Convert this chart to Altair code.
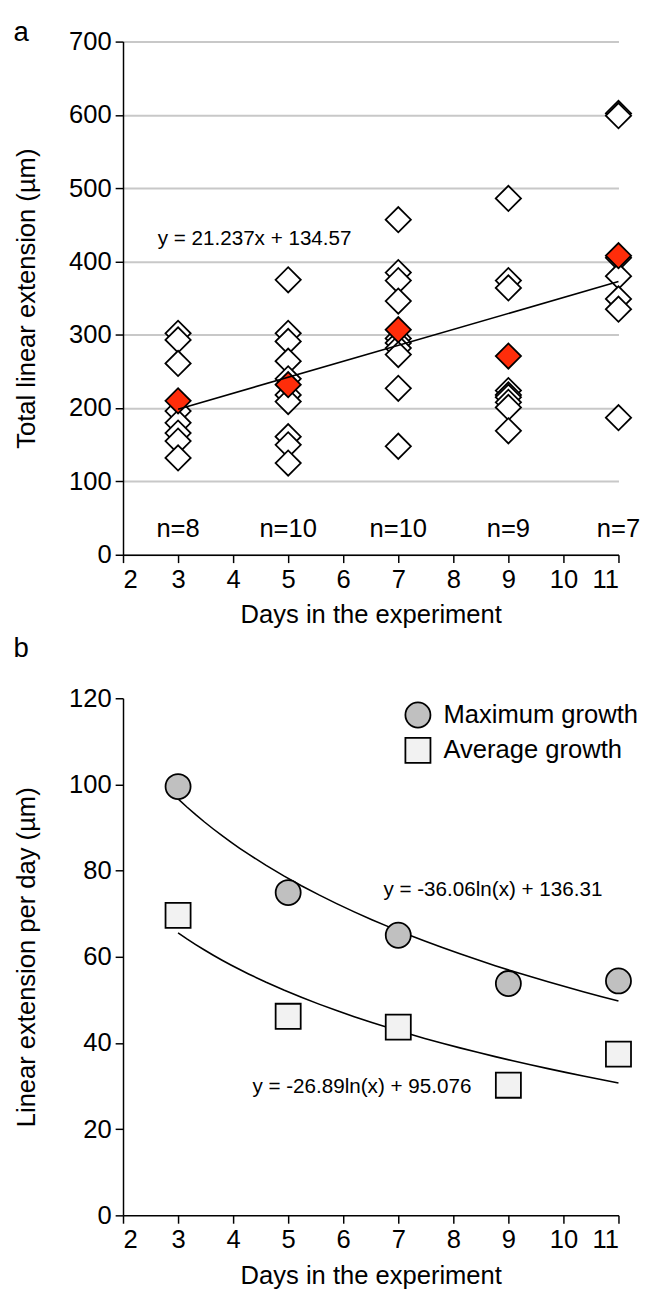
import altair as alt
import pandas as pd

FONT = "Liberation Sans"

# ---------------- Panel a data ----------------
day3 = [302, 293, 261, 196, 180, 166, 155, 132]
day5 = [375, 302, 291, 264, 240, 218, 209, 161, 150, 125]
day7 = [457, 385, 374, 346, 295, 289, 282, 273, 227, 148]
day9 = [486, 374, 364, 224, 218, 215, 208, 201, 169]
day11 = [602, 599, 405, 380, 349, 335, 187]
mean_days = [3, 5, 7, 9, 11]
mean_vals = [210, 232, 307, 271, 408]
n_labels = ["n=8", "n=10", "n=10", "n=9", "n=7"]
eq_a = "y = 21.237x + 134.57"

# ---------------- Panel b data ----------------
days_b = [3, 5, 7, 9, 11]
max_growth = [99.5, 74.9, 65.0, 53.8, 54.4]
avg_growth = [69.6, 46.2, 43.7, 30.2, 37.4]
series_names = ["Maximum growth", "Average growth"]
eq_max = "y = -36.06ln(x) + 136.31"
eq_avg = "y = -26.89ln(x) + 95.076"

x_ticks = list(range(2, 12))

rows = []
for d, vals in zip(mean_days, [day3, day5, day7, day9, day11]):
    for v in vals:
        rows.append({"day": d, "ext": v})
df_a = pd.DataFrame(rows)
df_mean = pd.DataFrame({"day": mean_days, "ext": mean_vals})
df_n = pd.DataFrame({"day": mean_days, "ext": [35] * 5, "label": n_labels})
df_eqa = pd.DataFrame({"day": [2.63], "ext": [430], "label": [eq_a]})

xa = alt.X("day:Q", scale=alt.Scale(domain=[2, 11], nice=False),
           axis=alt.Axis(values=x_ticks, format="d", title="Days in the experiment", grid=False,
                         titlePadding=10))
ya = alt.Y("ext:Q", scale=alt.Scale(domain=[0, 700], nice=False),
           axis=alt.Axis(values=list(range(0, 701, 100)), title="Total linear extension (µm)",
                         grid=True, gridColor="#c8c8c8", gridWidth=2, titlePadding=30, titleLimit=0))

pts_a = alt.Chart(df_a).mark_point(shape="diamond", filled=True, fill="white", stroke="black",
                                   strokeWidth=1.8, size=660, opacity=1).encode(x=xa, y=ya)
mean_a = alt.Chart(df_mean).mark_point(shape="diamond", filled=True, fill="#ff2d0a", stroke="black",
                                       strokeWidth=1.8, size=660, opacity=1).encode(x="day:Q", y="ext:Q")
line_a = alt.Chart(df_mean).transform_regression("day", "ext", extent=[3, 11]).mark_line(
    color="black", strokeWidth=1.6).encode(x="day:Q", y="ext:Q")
ntext = alt.Chart(df_n).mark_text(font=FONT, fontSize=26, color="black").encode(
    x="day:Q", y="ext:Q", text="label:N")
eqtext_a = alt.Chart(df_eqa).mark_text(font=FONT, fontSize=21, color="black", align="left").encode(
    x="day:Q", y="ext:Q", text="label:N")

panel_a = alt.layer(pts_a, mean_a, line_a, ntext, eqtext_a).properties(
    width=504, height=522,
    title=alt.TitleParams("a", anchor="start", frame="bounds", fontSize=28, fontWeight="normal",
                          font=FONT, color="black", offset=-18, dx=0))

# ---------------- Panel b ----------------
df_b = pd.DataFrame({
    "day": days_b * 2,
    "val": max_growth + avg_growth,
    "series": [series_names[0]] * 5 + [series_names[1]] * 5,
})
df_eqb = pd.DataFrame({"day": [6.73, 4.35], "val": [75.5, 29.7], "label": [eq_max, eq_avg]})

xb = alt.X("day:Q", scale=alt.Scale(domain=[2, 11], nice=False),
           axis=alt.Axis(values=x_ticks, format="d", title="Days in the experiment", grid=False,
                         titlePadding=10))
yb = alt.Y("val:Q", scale=alt.Scale(domain=[0, 120], nice=False),
           axis=alt.Axis(values=list(range(0, 121, 20)), title="Linear extension per day (µm)",
                         grid=False, titlePadding=30, titleLimit=0))

leg = alt.Legend(title=None, orient="none", legendX=286, legendY=3, labelFont=FONT, labelFontSize=26,
                 labelColor="black", labelLimit=0, symbolSize=650,
                 symbolStrokeWidth=1.8, rowPadding=2, labelOffset=12, padding=0)

pts_b = alt.Chart(df_b).mark_point(filled=True, strokeWidth=1.8, size=650, opacity=1).encode(
    x=xb, y=yb,
    shape=alt.Shape("series:N", scale=alt.Scale(domain=series_names, range=["circle", "square"]), legend=leg),
    fill=alt.Fill("series:N", scale=alt.Scale(domain=series_names, range=["#c0c0c0", "#f2f2f2"]), legend=leg),
    stroke=alt.Stroke("series:N", scale=alt.Scale(domain=series_names, range=["black", "black"]), legend=leg),
)
lines_b = alt.Chart(df_b).transform_regression("day", "val", groupby=["series"], method="log",
                                               extent=[3, 11]).mark_line(
    color="black", strokeWidth=1.6).encode(x="day:Q", y="val:Q", detail="series:N")
eqtext_b = alt.Chart(df_eqb).mark_text(font=FONT, fontSize=21, color="black", align="left").encode(
    x="day:Q", y="val:Q", text="label:N")

panel_b = alt.layer(lines_b, pts_b, eqtext_b).properties(
    width=504, height=526,
    title=alt.TitleParams("b", anchor="start", frame="bounds", fontSize=28, fontWeight="normal",
                          font=FONT, color="black", offset=23, dx=0))

chart = alt.vconcat(panel_a, panel_b, spacing=8).properties(
    padding={"top": 0, "left": 5, "right": 5, "bottom": 5}
).resolve_legend(
    shape="independent", fill="independent", stroke="independent"
).resolve_scale(shape="independent", fill="independent", stroke="independent").configure_axis(
    labelFont=FONT, titleFont=FONT, labelFontSize=26, titleFontSize=26,
    labelColor="black", titleColor="black", titleFontWeight="normal",
    domainColor="black", tickColor="black", domainWidth=1.5, tickWidth=1.5,
    tickSize=8, labelPadding=4,
).configure_view(stroke=None)

chart.save("out.html", embed_options={"renderer": "svg", "actions": False})
